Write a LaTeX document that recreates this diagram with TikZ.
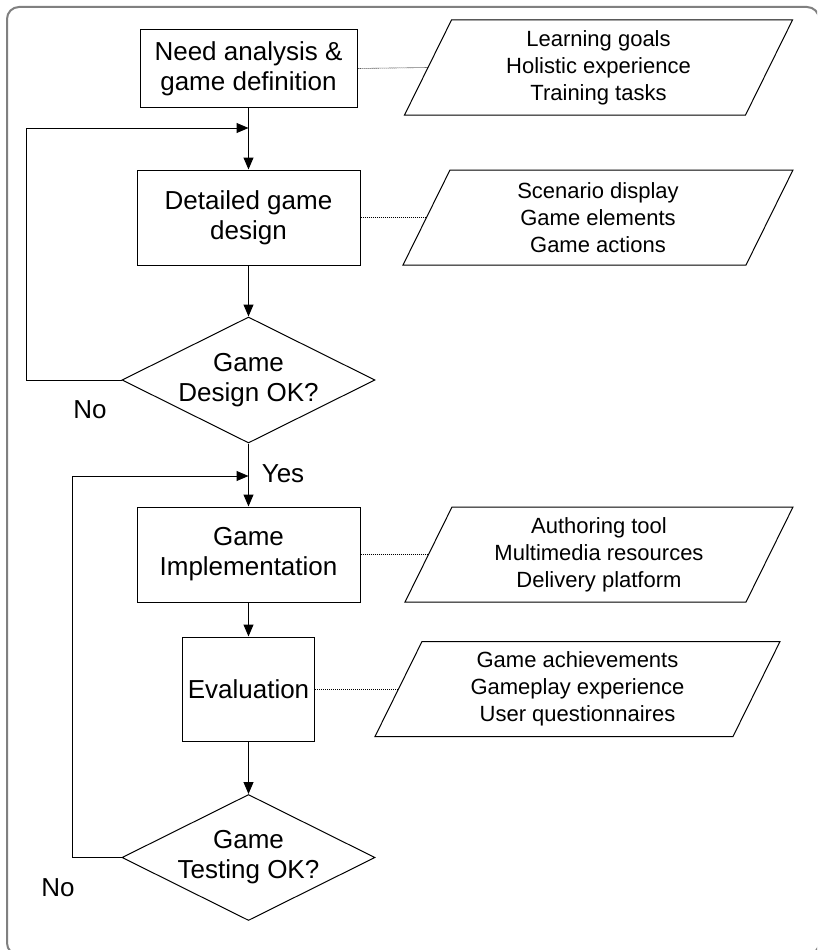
\documentclass[tikz,border=0pt]{standalone}
\usepackage{fontspec}
\setmainfont{Liberation Sans}
\usetikzlibrary{shapes.geometric,arrows.meta}
\definecolor{framegray}{RGB}{128,128,128}
\newcommand{\iobox}[5]{%
  \node[iotext] (#1) at (#2,#3) {#5};
  \draw[line width=1pt] (#2-#4/2-23.5,#3+47.5) -- (#2+#4/2-23.5,#3+47.5) -- (#2+#4/2+23.5,#3-47.5) -- (#2-#4/2+23.5,#3-47.5) -- cycle;
  \coordinate (#1w) at (#2-#4/2,#3);
}
\begin{document}
\begin{tikzpicture}[x=1pt,y=-1pt,
  box/.style={draw,line width=1pt,inner sep=0pt,align=center,font=\fontsize{26}{30}\selectfont},
  iotext/.style={inner sep=0pt,align=center,font=\fontsize{22}{27}\selectfont},
  dec/.style={diamond,draw,line width=1pt,inner sep=0pt,minimum width=253pt,minimum height=126pt},
  flow/.style={line width=1pt,-{Triangle[length=12pt,width=10pt]}},
  link/.style={line width=0.6pt,dash pattern=on 1pt off 1pt},
  lab/.style={font=\fontsize{26}{30}\selectfont,inner sep=0pt,align=center}]
\useasboundingbox (0,0) rectangle (817,950);
\begin{scope}
\clip (0,0) rectangle (817,950);
\draw[line width=2pt,framegray,rounded corners=12pt] (7,7) rectangle (819,955);
\end{scope}

% process boxes
\node[box,minimum width=217pt,minimum height=77pt] (B1) at (248.5,68.5) {Need analysis \&\\game definition};
\node[box,minimum width=223pt,minimum height=95pt] (B2) at (248.5,217.5) {Detailed game\\design};
\node[dec,label={[lab]center:Game\\Design OK?}] (D1) at (248.5,380) {};
\node[box,minimum width=223pt,minimum height=95pt] (B3) at (248.5,554.5) {Game\\Implementation};
\node[box,minimum width=132pt,minimum height=104pt] (B4) at (248.5,689) {Evaluation};
\node[dec,label={[lab]center:Game\\Testing OK?}] (D2) at (248.5,857.5) {};

% data shapes
\iobox{P1}{598.5}{67.5}{341}{Learning goals\\Holistic experience\\Training tasks}
\iobox{P2}{598}{217.5}{343}{Scenario display\\Game elements\\Game actions}
\iobox{P3}{599}{554.5}{341}{Authoring tool\\Multimedia resources\\Delivery platform}
\iobox{P4}{577.5}{689}{358}{Game achievements\\Gameplay experience\\User questionnaires}

% main flow
\draw[flow] (B1) -- (B2);
\draw[flow] (B2) -- (D1);
\draw[flow] (D1) -- (B3);
\draw[flow] (B3) -- (B4);
\draw[flow] (B4) -- (D2);

% feedback loops
\coordinate (L1) at (26,128);
\coordinate (M1) at (248.5,128);
\draw[flow] (D1.west) -| (L1) -- (M1);
\coordinate (L2) at (72,476);
\coordinate (M2) at (248.5,476);
\draw[flow] (D2.west) -| (L2) -- (M2);

% dotted links
\draw[link] (B1.east) -- (P1w);
\draw[link] (B2.east) -- (P2w);
\draw[link] (B3.east) -- (P3w);
\draw[link] (B4.east) -- (P4w);

% labels
\node[lab] (no1) at (90,410) {No};
\node[lab] (yes) at (283,474) {Yes};
\node[lab] (no2) at (58,888) {No};
\end{tikzpicture}
\end{document}
